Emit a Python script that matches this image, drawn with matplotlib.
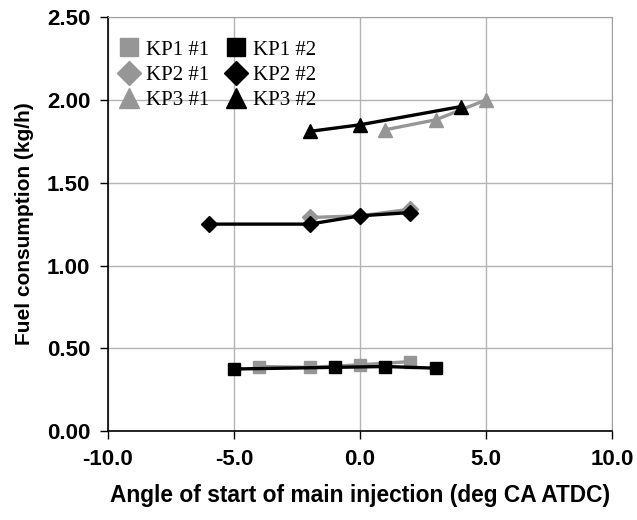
import matplotlib
matplotlib.use("Agg")
import matplotlib.pyplot as plt

kp1_1_x = [-4, -2, 0, 2]
kp1_1_y = [0.39, 0.385, 0.40, 0.42]
kp1_2_x = [-5, -1, 1, 3]
kp1_2_y = [0.375, 0.385, 0.39, 0.38]
kp2_1_x = [-2, 0, 2]
kp2_1_y = [1.29, 1.30, 1.34]
kp2_2_x = [-6, -2, 0, 2]
kp2_2_y = [1.25, 1.25, 1.30, 1.32]
kp3_1_x = [1, 3, 5]
kp3_1_y = [1.82, 1.88, 2.00]
kp3_2_x = [-2, 0, 4]
kp3_2_y = [1.81, 1.85, 1.96]

x_ticks = [-10, -5, 0, 5, 10]
y_ticks = [0.0, 0.5, 1.0, 1.5, 2.0, 2.5]

gray = "#969696"

fig = plt.figure(figsize=(6.37, 5.2), dpi=100)
ax = fig.add_axes([0.1695, 0.171, 0.7915, 0.796])

lw = 2.4
series = [
    (kp1_1_x, kp1_1_y, "s", gray, "KP1 #1", 9),
    (kp1_2_x, kp1_2_y, "s", "black", "KP1 #2", 9),
    (kp2_1_x, kp2_1_y, "D", gray, "KP2 #1", 8),
    (kp2_2_x, kp2_2_y, "D", "black", "KP2 #2", 8),
    (kp3_1_x, kp3_1_y, "^", gray, "KP3 #1", 10),
    (kp3_2_x, kp3_2_y, "^", "black", "KP3 #2", 10),
]
lines = {}
for xs, ys, m, c, lab, ms in series:
    ln, = ax.plot(xs, ys, color=c, lw=lw, marker=m, ms=ms, mfc=c, mec=c,
                  label=lab, clip_on=False)
    lines[lab] = ln

ax.set_xlim(-10, 10)
ax.set_ylim(0, 2.5)
ax.set_xticks(x_ticks)
ax.set_yticks(y_ticks)
ax.set_xticklabels([f"{v:.1f}" for v in x_ticks])
ax.set_yticklabels([f"{v:.2f}" for v in y_ticks])
ax.grid(True, color="#b4b4b4", lw=1)
ax.set_axisbelow(True)

for s in ["top", "right"]:
    ax.spines[s].set_color("#a0a0a0")
for s in ["left", "bottom"]:
    ax.spines[s].set_color("black")
    ax.spines[s].set_linewidth(1.2)
ax.tick_params(axis="both", length=5.8, width=1, color="black", direction="out", pad=7)

for t in ax.get_xticklabels() + ax.get_yticklabels():
    t.set_fontfamily("Liberation Sans")
    t.set_fontweight("bold")
    t.set_fontsize(16)

ax.set_xlabel("Angle of start of main injection (deg CA ATDC)", fontsize=16.4,
              fontweight="bold", family="Liberation Sans", labelpad=10)
ax.set_ylabel("Fuel consumption (kg/h)", fontsize=15, fontweight="bold",
              family="Liberation Sans", labelpad=9)

order = ["KP1 #1", "KP2 #1", "KP3 #1", "KP1 #2", "KP2 #2", "KP3 #2"]
handles = []
for lab in order:
    ln = lines[lab]
    h, = ax.plot([], [], ls="none", marker=ln.get_marker(), ms=ln.get_markersize() * 1.5,
                 mfc=ln.get_color(), mec=ln.get_color(), label=lab)
    handles.append(h)
ax.legend(handles=handles, ncol=2, loc="upper left", frameon=False,
          prop={"family": "Liberation Serif", "size": 15},
          bbox_to_anchor=(0.005, 0.965), handlelength=1.0, handletextpad=0.3,
          columnspacing=0.8, labelspacing=0.28, borderaxespad=0)

fig.savefig("out.png", dpi=100)
